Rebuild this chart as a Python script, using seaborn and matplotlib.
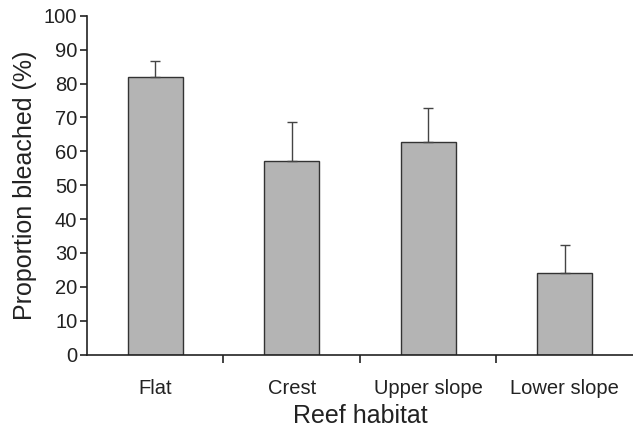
import numpy as np
import pandas as pd
import matplotlib
matplotlib.use("Agg")
import matplotlib.pyplot as plt
import seaborn as sns

# datos
habitats = ["Flat", "Crest", "Upper slope", "Lower slope"]
bleached = [82.0, 57.0, 62.8, 24.0]
err_upper = [4.5, 11.5, 10.0, 8.5]

df = pd.DataFrame({"habitat": habitats, "bleached": bleached})

sns.set_style("white")
plt.rcParams["font.family"] = ["Liberation Sans", "DejaVu Sans"]

fig = plt.figure(figsize=(6.33, 4.26), dpi=100)
ax = fig.add_axes([0.1374, 0.1674, 0.8626, 0.7957])

sns.barplot(data=df, x="habitat", y="bleached", color="#b4b4b4",
            edgecolor="#333333", linewidth=1.0, width=0.4,
            saturation=1, errorbar=None, ax=ax)

# solo barra de error superior
xs = np.arange(len(habitats))
ax.errorbar(xs, bleached, yerr=[np.zeros(len(xs)), err_upper], fmt="none",
            ecolor="#444444", elinewidth=1.0, capsize=3.5, capthick=1.0)

ax.set_xlim(-0.5, 3.5)
ax.set_ylim(0, 100)
ax.set_yticks(np.arange(0, 101, 10))
ax.tick_params(axis="y", direction="out", length=5, width=1.2,
               color="#222222", labelsize=14.5, pad=2, left=True,
               labelcolor="#222222")
ax.set_xticks(xs)
ax.set_xticklabels(habitats)
ax.set_xticks([0.5, 1.5, 2.5], minor=True)
ax.tick_params(axis="x", which="major", length=0, labelsize=14.5, pad=17.5,
               labelcolor="#222222")
ax.tick_params(axis="x", which="minor", direction="out", length=6,
               width=1.2, color="#222222", bottom=True)

for side in ["top", "right"]:
    ax.spines[side].set_visible(False)
for side in ["left", "bottom"]:
    ax.spines[side].set_linewidth(1.2)
    ax.spines[side].set_color("#222222")

ax.set_ylabel("Proportion bleached (%)", fontsize=18, labelpad=5,
              color="#222222")
ax.set_xlabel("Reef habitat", fontsize=18, labelpad=4, color="#222222")

fig.savefig("out.png", dpi=100)
plt.close()
